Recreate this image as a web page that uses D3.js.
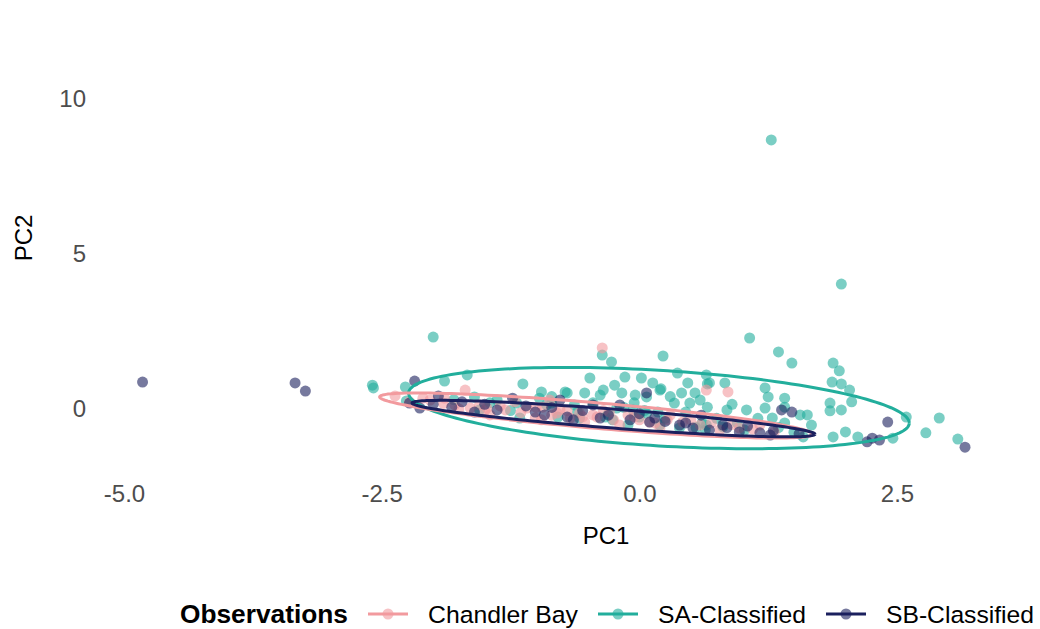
<!DOCTYPE html>
<html><head><meta charset="utf-8">
<script src="https://cdn.jsdelivr.net/npm/d3@7"></script>
<style>body{margin:0;background:#fff}svg{display:block}text{font-family:"Liberation Sans",Arial,sans-serif}</style>
</head><body><svg id="c" width="1040" height="629"></svg>
<script>
// ---- data ----
const groups = ["Chandler Bay", "SA-Classified", "SB-Classified"];
const groupColors = ["#F29A9E", "#22AE9C", "#1B205E"];
const xTicks = [-5.0, -2.5, 0.0, 2.5];
const yTicks = [0, 5, 10];

const saX = [1.28,1.96,-2.00,-2.59,-2.58,-2.27,-2.26,-1.89,-1.67,-1.13,-0.95,-0.70,-0.48,-0.36,-0.27,-0.24,0.02,0.13,-0.38,-0.22,-0.06,0.07,-0.26,-1.60,-1.38,-1.19,-0.97,-0.90,0.23,-0.14,-0.72,-0.53,-0.35,-0.17,-0.04,0.20,0.37,0.47,0.41,0.54,0.59,0.34,-0.33,0.00,0.18,0.61,0.64,-0.85,-0.79,1.07,1.35,1.48,1.88,1.94,1.87,1.96,2.04,2.06,1.85,1.85,1.96,1.88,2.00,2.12,2.46,2.59,2.78,2.91,3.09,0.21,0.65,0.66,0.83,0.68,0.66,0.85,1.04,1.22,1.25,1.41,1.41,1.22,1.29,1.56,1.63,1.67,1.59,0.65,0.81,1.41,0.49,0.07,-0.58,-1.16,-1.55,0.20,0.39,1.02,-0.63,-0.11,
  -1.80,-1.45,-1.25,-0.60,-0.45,-0.30,-0.15,0.05,0.25,0.45,0.55,0.75,0.95,1.15,1.35,1.50,-0.05,0.30,-0.85,0.90];
const saY = [8.68,4.03,2.32,0.77,0.68,0.71,0.26,0.90,1.10,0.81,0.55,0.52,1.00,1.74,1.52,0.77,1.00,0.84,0.45,0.03,-0.03,-0.13,-0.35,0.39,0.29,0.19,0.35,0.13,1.71,1.03,0.55,0.52,0.61,0.52,0.45,0.61,1.16,0.84,0.52,0.52,0.29,0.19,-0.26,-0.26,-0.10,-0.45,-0.68,0.19,-0.26,2.29,1.84,1.48,1.48,1.23,0.87,0.81,0.61,0.23,0.19,-0.06,-0.03,-0.90,-0.74,-0.90,-0.94,-0.26,-0.77,-0.29,-0.97,0.65,1.10,0.81,0.84,0.84,0.06,-0.03,-0.03,0.68,0.39,0.35,0.06,0.03,-0.29,-0.19,-0.19,-0.52,-0.90,-0.52,-0.58,-0.45,0.19,0.39,-0.29,-0.29,-0.03,-0.52,-0.61,-0.68,0.13,-0.52,
  0.30,0.20,-0.05,-0.10,0.20,-0.15,0.05,-0.05,-0.30,-0.10,-0.60,-0.30,-0.45,-0.30,-0.60,-0.75,0.20,0.40,0.40,0.15];

const cbX = [-0.36,0.65,0.86,-1.69,-0.80,-0.58,-0.41,-0.11,0.10,0.27,0.42,-1.55,-1.48,-1.09,-0.94,-0.77,-0.45,-2.23,-2.03,-1.79,-1.30,-1.21,-1.64,-1.01,-0.67,-0.29,0.00,0.59,0.78,0.97,-1.45,-0.53,-0.19,0.20,-0.87,-1.89,-2.37,1.17,1.31,
  -1.90,-1.75,-1.50,-1.35,-1.15,-1.00,-0.85,-0.70,-0.55,-0.35,-0.25,-0.05,0.15,0.30,0.50,0.70,0.90,1.10,-2.10,-0.95];
const cbY = [1.97,0.61,0.55,0.61,-0.13,-0.13,-0.26,-0.19,-0.42,-0.35,-0.42,0.13,0.03,0.03,0.06,-0.03,-0.19,0.23,0.29,0.13,-0.03,0.23,0.03,-0.29,-0.29,-0.10,-0.35,-0.52,-0.68,-0.61,-0.19,-0.42,-0.52,-0.61,0.29,0.35,0.42,-0.52,-0.74,
  0.18,0.00,-0.05,0.10,-0.12,0.05,-0.20,-0.05,-0.25,-0.05,-0.35,-0.25,-0.45,-0.20,-0.35,-0.45,-0.50,-0.65,0.35,-0.35];

const sbX = [-4.82,-3.34,-3.24,-2.18,3.16,2.21,2.26,2.33,2.41,1.48,1.38,1.27,0.81,-1.95,-1.72,-1.82,-1.38,-1.01,-1.23,-0.77,-0.70,-0.45,-0.19,-0.09,0.07,0.10,-0.64,0.52,-2.23,-2.13,-1.60,-0.38,0.39,0.97,1.17,-0.92,0.15,0.68,
  -1.50,-1.10,-0.55,-0.30,0.00,0.25,0.45,0.85,1.05,1.30,1.55,-0.85,-2.00,0.60];
const sbY = [0.87,0.84,0.58,0.90,-1.23,-1.06,-0.94,-1.00,-0.42,-0.10,-0.03,-0.84,-0.52,0.42,0.23,0.06,-0.03,-0.10,0.35,0.29,-0.26,0.13,0.13,-0.35,0.52,-0.42,-0.35,-0.61,0.19,0.03,-0.10,-0.29,-0.52,-0.74,-0.77,-0.19,-0.29,-0.68,
  0.15,0.10,-0.05,-0.20,-0.15,-0.40,-0.45,-0.60,-0.55,-0.70,-0.80,0.05,0.15,-0.20];

// ellipse summaries (center and shape matrix [sxx, sxy, syy]) per group
const ellCenters = [[-0.42,-0.21],[0.19,0.03],[-0.25,-0.31]];
const ellShapes  = [[4.41,-1.26,0.53],[5.90,-1.17,1.72],[3.82,-0.984,0.347]];

// ---- chart ----
const svg = d3.select("#c");
const x = d3.scaleLinear().domain([-5, 2.5]).range([124, 897]);
const y = d3.scaleLinear().domain([0, 10]).range([409, 99]);

const pts = [
  {g:1, xs:saX, ys:saY},
  {g:0, xs:cbX, ys:cbY},
  {g:2, xs:sbX, ys:sbY}
];
pts.forEach(s => {
  svg.append("g").selectAll("circle").data(s.xs.map((v,i)=>[v, s.ys[i]])).join("circle")
    .attr("cx", d => x(d[0])).attr("cy", d => y(d[1])).attr("r", 5.5)
    .attr("fill", groupColors[s.g]).attr("fill-opacity", 0.6);
});

// ellipses
const line = d3.line().x(d => x(d[0])).y(d => y(d[1]));
[1,0,2].forEach(g => {
  const [cx, cy] = ellCenters[g];
  const [a, b, c] = ellShapes[g];
  const l11 = Math.sqrt(a), l21 = b / l11, l22 = Math.sqrt(c - l21*l21);
  const ptsE = d3.range(0, 361, 2).map(t => {
    const r = t * Math.PI / 180, u = Math.cos(r), v = Math.sin(r);
    return [cx + l11*u, cy + l21*u + l22*v];
  });
  svg.append("path").attr("d", line(ptsE)).attr("fill", "none")
    .attr("stroke", groupColors[g]).attr("stroke-width", 3);
});

// axes (no lines, labels only)
const xAxis = svg.append("g").attr("transform", "translate(0,482)")
  .call(d3.axisBottom(x).tickValues(xTicks).tickFormat(d3.format(".1f")).tickSize(0));
xAxis.select(".domain").remove();
xAxis.selectAll("text").attr("fill", "#4D4D4D").attr("font-size", 24).attr("dy", "0.71em")
  .text(d => d3.format(".1f")(d).replace("−", "-"));

const yAxis = svg.append("g").attr("transform", "translate(86,0)")
  .call(d3.axisLeft(y).tickValues(yTicks).tickFormat(d3.format("d")).tickSize(0));
yAxis.select(".domain").remove();
yAxis.selectAll("text").attr("fill", "#4D4D4D").attr("font-size", 24).attr("x", 0);

svg.append("text").attr("x", 606).attr("y", 544).attr("text-anchor", "middle")
  .attr("font-size", 24).attr("fill", "#000").text("PC1");
svg.append("text").attr("transform", "translate(32,238) rotate(-90)").attr("text-anchor", "middle")
  .attr("font-size", 24).attr("fill", "#000").text("PC2");

// legend
const lg = svg.append("g").attr("transform", "translate(0,614)");
lg.append("text").attr("x", 180).attr("y", 8.5).attr("font-size", 25.5).attr("font-weight", "bold")
  .attr("textLength", 168).attr("lengthAdjust", "spacingAndGlyphs")
  .attr("fill", "#000").text("Observations");
const keyX = [368, 598, 826];
const labW = [150, 148, 148];
groups.forEach((name, i) => {
  lg.append("line").attr("x1", keyX[i]).attr("x2", keyX[i] + 40).attr("y1", 0).attr("y2", 0)
    .attr("stroke", groupColors[i]).attr("stroke-width", 3);
  lg.append("circle").attr("cx", keyX[i] + 20).attr("cy", 0).attr("r", 5.5)
    .attr("fill", groupColors[i]).attr("fill-opacity", 0.6);
  lg.append("text").attr("x", keyX[i] + 60).attr("y", 8.5).attr("font-size", 24.5)
    .attr("textLength", labW[i]).attr("lengthAdjust", "spacingAndGlyphs")
    .attr("fill", "#000").text(name);
});
</script></body></html>
